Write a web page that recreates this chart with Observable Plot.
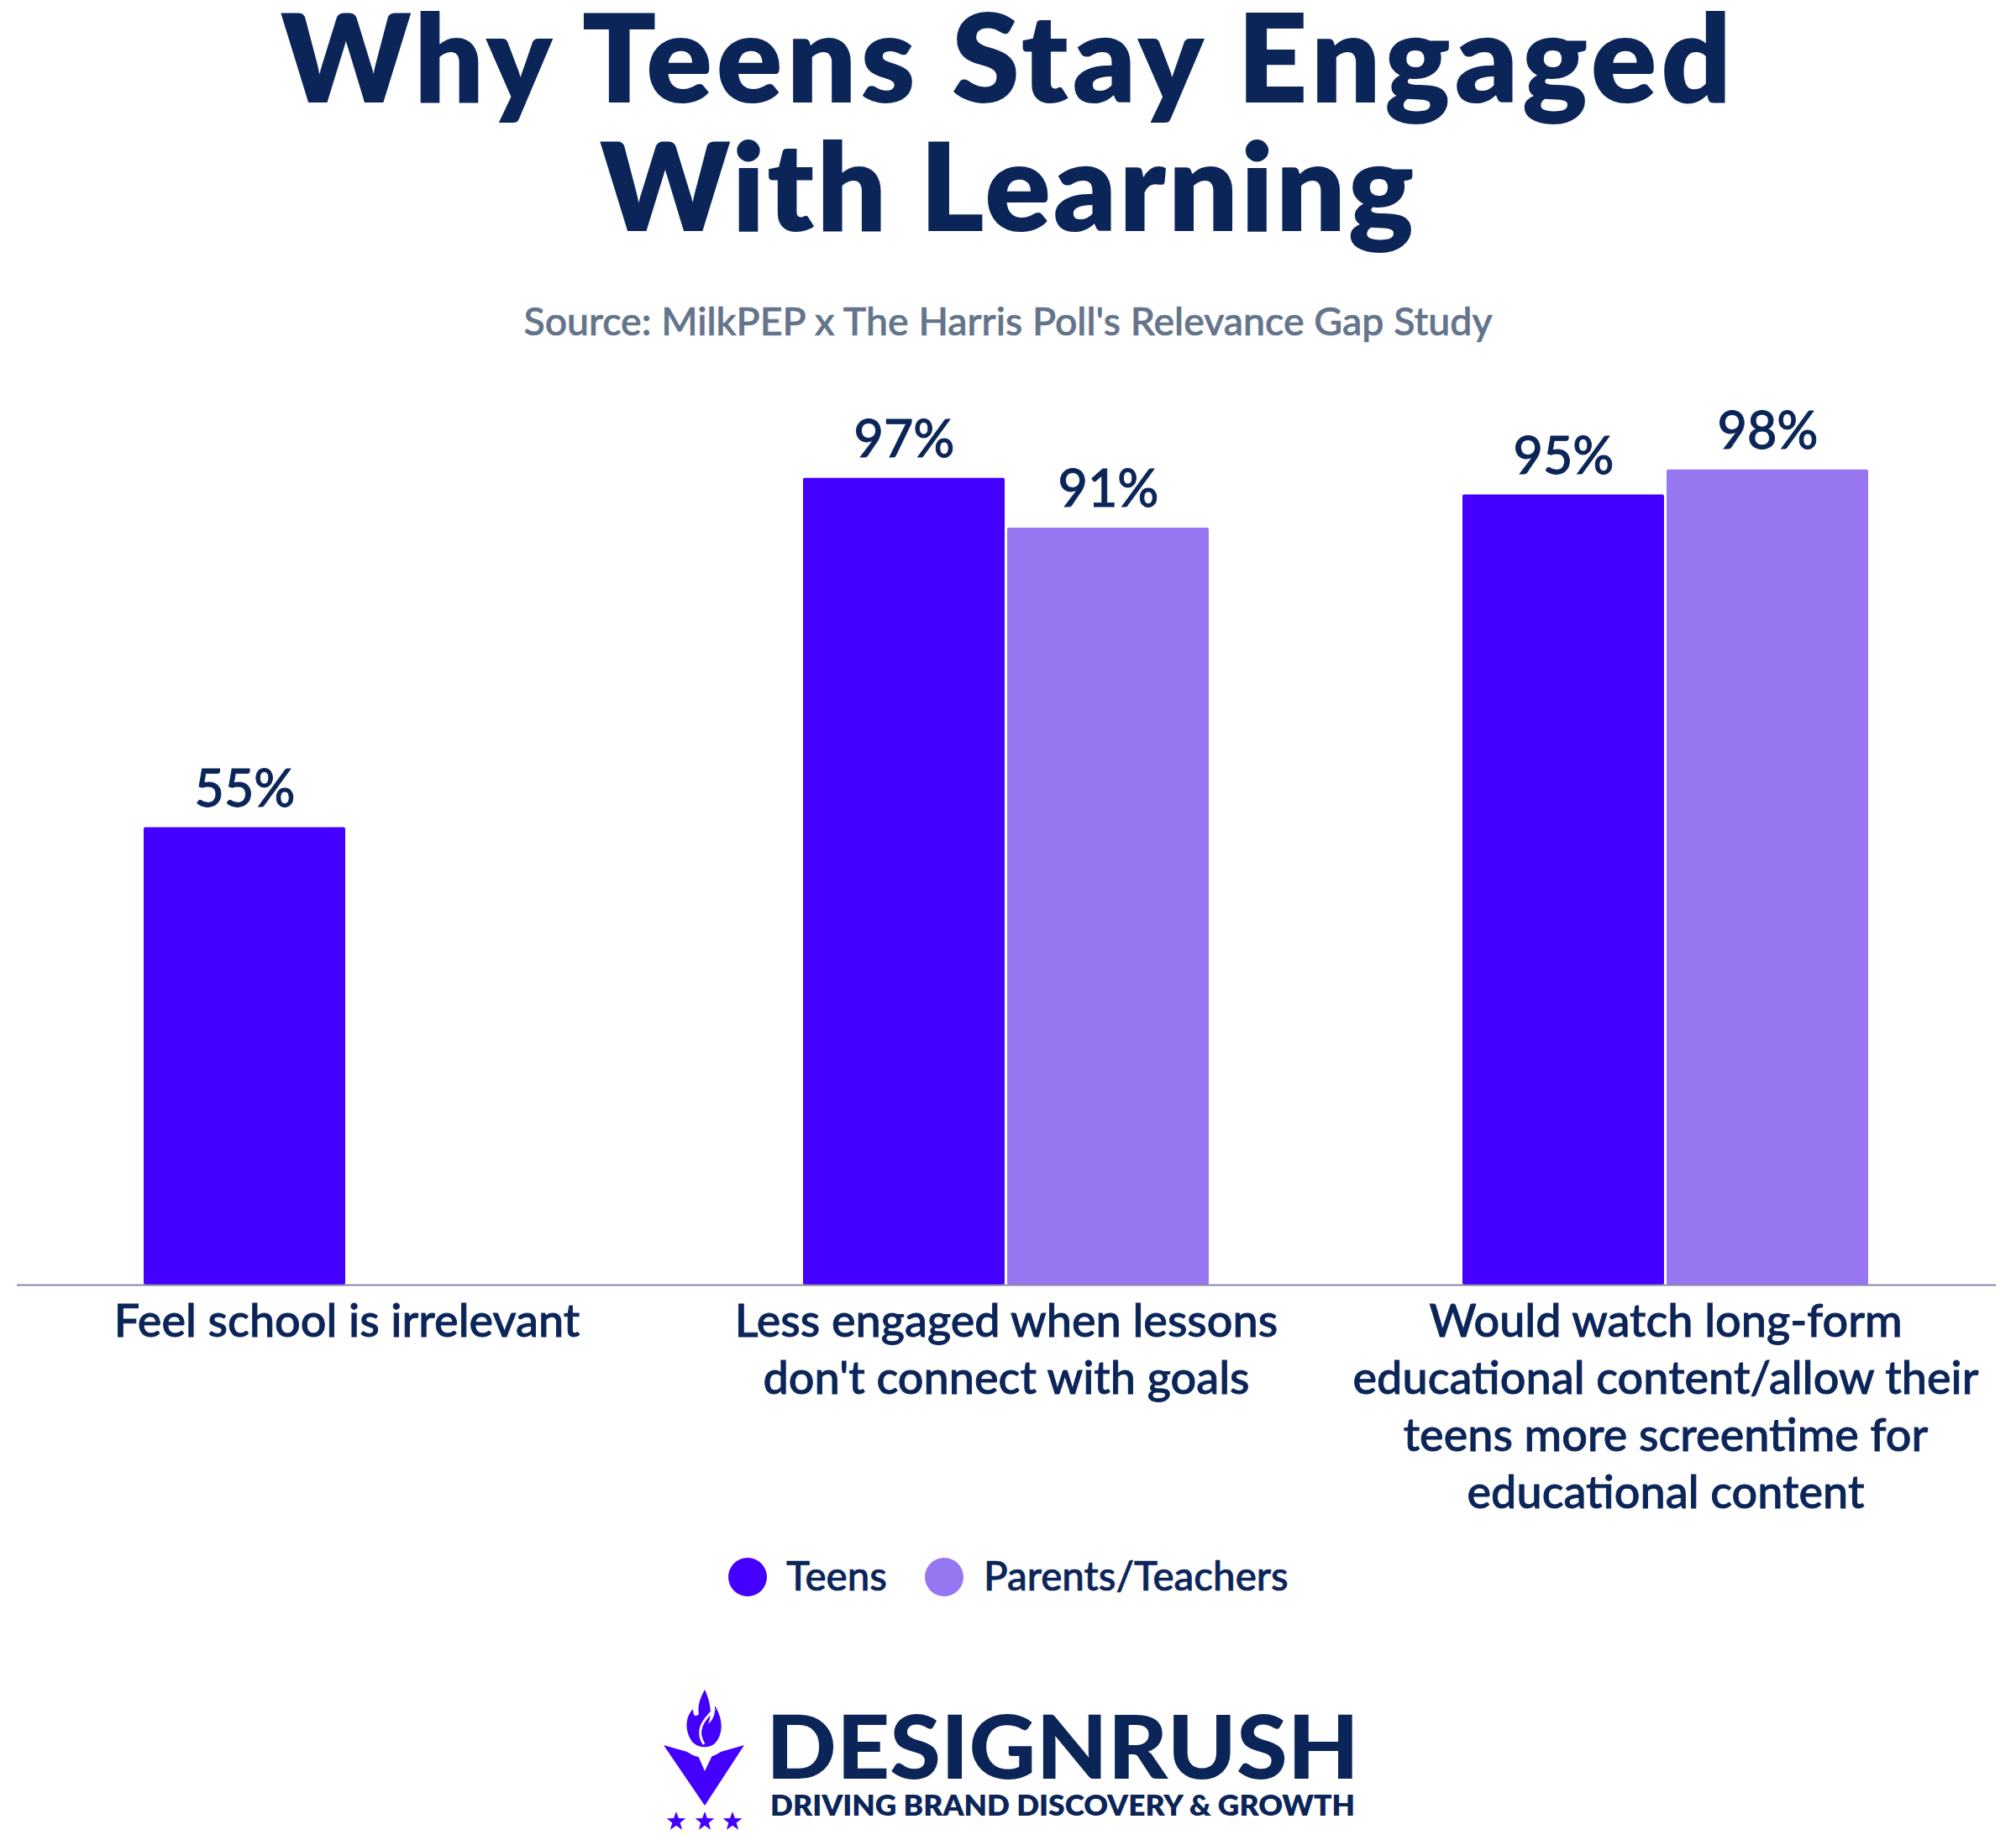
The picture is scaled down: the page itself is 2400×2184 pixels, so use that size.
<!DOCTYPE html>
<html><head><meta charset="utf-8">
<script src="https://cdn.jsdelivr.net/npm/d3@7"></script>
<script src="https://cdn.jsdelivr.net/npm/@observablehq/plot@0.6"></script>
<style>
html,body{margin:0;padding:0;background:#fff;width:2400px;height:2184px;overflow:hidden;font-family:Lato,sans-serif}
.abs{position:absolute;left:0;width:2400px;text-align:center;white-space:nowrap}
.title{font-size:146px;line-height:130px;font-weight:800;color:#0b2559}
#subtitle{top:353px;font-size:46.5px;line-height:56px;font-weight:500;color:#64748b;-webkit-text-stroke:0.7px #64748b}
#chart{top:470px;text-align:left}
#chart svg{display:block}
#chart svg text{stroke:#0b2559;stroke-width:0.9px}
.lg{position:absolute;font-size:47.5px;line-height:56px;font-weight:500;color:#0b2559;white-space:nowrap;-webkit-text-stroke:0.7px #0b2559}
.dot{position:absolute;width:46px;height:46px;border-radius:50%}
#logo{position:absolute;left:0;top:0;width:2400px;height:2184px;pointer-events:none}
.brand{position:absolute;left:912px;color:#0b2559;white-space:nowrap;transform-origin:0 50%}
#brand1{top:2037px;font-size:104px;line-height:80px;font-weight:900}
#brand2{top:2133px;left:917px;font-size:33px;line-height:30px;font-weight:800}
</style></head><body>
<div class="abs title" style="top:1px;letter-spacing:4.9px">Why Teens Stay Engaged</div>
<div class="abs title" style="top:154px;letter-spacing:2.9px">With Learning</div>
<div class="abs" id="subtitle">Source: MilkPEP x The Harris Poll's Relevance Gap Study</div>
<div class="abs" id="chart"></div>
<div id="legend"></div>
<svg id="logo" viewBox="0 0 2400 2184">
  <defs><polygon id="star" points="0,-12 2.9,-3.9 11.4,-3.7 4.7,1.5 7.1,9.7 0,4.8 -7.1,9.7 -4.7,1.5 -11.4,-3.7 -2.9,-3.9" fill="#4400ff"/></defs>
  <path fill="#4400ff" d="M790 2077 L818 2085 Q828 2092 838 2092 Q848 2092 858 2085 L886 2077 L839 2149 Z"/>
  <path fill="#fff" d="M829 2085 Q839 2089 850 2085 L839 2108 Z"/>
  <path fill="#4400ff" d="M839 2011 C846 2026 848 2040 843 2052 C852 2044 851 2036 851 2030 C860 2044 862 2062 852 2074 C846 2081 832 2081 825 2074 C815 2062 815 2044 825 2034 C825 2044 829 2043 832 2040 C830 2030 834 2020 839 2011 Z"/>
  <path fill="none" stroke="#fff" stroke-width="3" d="M851 2034 C836 2048 828 2060 838 2076"/>
  <use href="#star" x="805" y="2168"/><use href="#star" x="839" y="2168"/><use href="#star" x="872" y="2168"/>
</svg>
<div class="brand" id="brand1">DESIGNRUSH</div>
<div class="brand" id="brand2">DRIVING BRAND DISCOVERY &amp; GROWTH</div>
<script>
const categories = ["Feel school is irrelevant","Less engaged when lessons\ndon't connect with goals","Would watch long-form\neducational content/allow their\nteens more screentime for\neducational content"];
const seriesNames = ["Teens","Parents/Teachers"];
const seriesColors = ["#4400ff","#9776f1"];
const teens = [55,97,95];
const parents = [null,91,98];
const rows = [];
categories.forEach((c,i)=>{
  rows.push({c,s:seriesNames[0],v:teens[i]});
  if(parents[i]!=null) rows.push({c,s:seriesNames[1],v:parents[i]});
});
const navy = "#0b2559";
const plot = Plot.plot({
  width:2400,height:1370,
  marginTop:69,marginBottom:311,marginLeft:20,marginRight:25,
  style:{background:"transparent",fontFamily:"Lato,sans-serif",overflow:"visible"},
  fx:{domain:categories,label:null,padding:0},
  x:{domain:seriesNames,axis:null,paddingInner:0.012,paddingOuter:0.62},
  y:{domain:[0,100],axis:null},
  color:{domain:seriesNames,range:seriesColors},
  marks:[
    Plot.barY(rows,{fx:"c",x:"s",y:"v",fill:"s",rx:2}),
    Plot.text(rows,{fx:"c",x:"s",y:"v",text:d=>d.v+"%",dy:-45,fontSize:61,fontWeight:500,fill:navy}),
    ...categories.map((c,i)=>Plot.ruleY([0],{fx:()=>c,stroke:"#8585a8",strokeWidth:2,insetRight:i===2?-1:0})),
    Plot.axisFx({anchor:"bottom",tickSize:0,tickPadding:13,fontSize:54,fontWeight:500,fill:navy,lineHeight:1.26,label:null})
  ]
});
document.getElementById("chart").appendChild(plot);
const lg=document.getElementById("legend");
[[seriesNames[0],seriesColors[0],890,936],[seriesNames[1],seriesColors[1],1124,1171]].forEach(([n,c,cx,tx])=>{
  const d=document.createElement("div");d.className="dot";d.style.cssText=`left:${cx-23}px;top:1854px;background:${c}`;lg.appendChild(d);
  const t=document.createElement("div");t.className="lg";t.textContent=n;t.style.cssText=`left:${tx}px;top:1847px`;lg.appendChild(t);
});
[["brand1",706],["brand2",696]].forEach(([id,w])=>{
  const el=document.getElementById(id);
  el.style.transform=`scaleX(${w/el.getBoundingClientRect().width})`;
});
</script>
</body></html>
